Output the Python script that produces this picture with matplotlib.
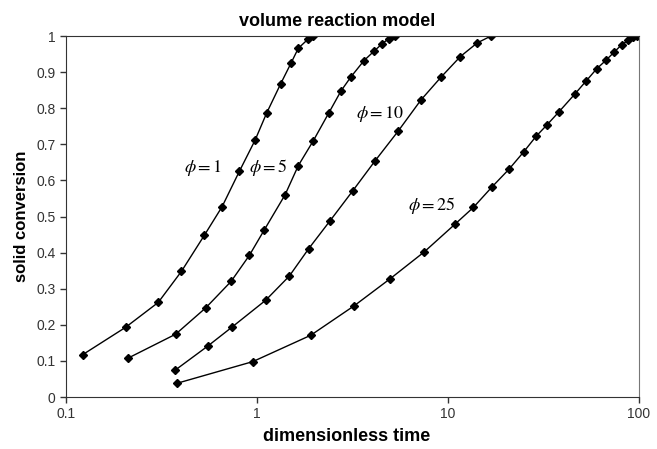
import matplotlib
matplotlib.use('Agg')
import numpy as np
from matplotlib import pyplot as plt

plt.rcParams['font.family'] = ['Liberation Sans', 'DejaVu Sans']
plt.rcParams['mathtext.fontset'] = 'stix'

# phi = 1
t1 = [0.122, 0.205, 0.304, 0.402, 0.530, 0.656, 0.808, 0.976, 1.124, 1.331, 1.507, 1.645, 1.856, 1.972]
x1 = [0.117, 0.193, 0.262, 0.348, 0.448, 0.527, 0.625, 0.711, 0.787, 0.868, 0.925, 0.966, 0.992, 1.0]

# phi = 5
t5 = [0.210, 0.375, 0.539, 0.731, 0.911, 1.092, 1.402, 1.645, 1.972, 2.382, 2.754, 3.094, 3.633, 4.099, 4.529, 4.909, 5.28]
x5 = [0.107, 0.174, 0.247, 0.320, 0.392, 0.463, 0.560, 0.641, 0.710, 0.788, 0.848, 0.886, 0.932, 0.958, 0.979, 0.993, 1.0]

# phi = 10
t10 = [0.372, 0.552, 0.737, 1.11, 1.476, 1.865, 2.411, 3.17, 4.148, 5.473, 7.22, 9.19, 11.6, 14.23, 16.8]
x10 = [0.074, 0.141, 0.193, 0.268, 0.335, 0.411, 0.488, 0.571, 0.654, 0.736, 0.823, 0.886, 0.943, 0.981, 1.0]

# phi = 25
t25 = [0.381, 0.950, 1.911, 3.232, 4.99, 7.51, 10.84, 13.57, 16.93, 20.86, 24.9, 28.9, 33.0, 38.1,
       46.1, 53.0, 60.0, 67.2, 74.0, 81.2, 87.9, 93.4, 97.3]
x25 = [0.038, 0.098, 0.171, 0.253, 0.328, 0.402, 0.478, 0.525, 0.581, 0.631, 0.679, 0.722, 0.754, 0.790,
       0.839, 0.876, 0.909, 0.933, 0.955, 0.976, 0.988, 0.996, 1.0]

labels = [r'$\phi = 1$', r'$\phi = 5$', r'$\phi = 10$', r'$\phi = 25$']
label_pos = [(0.522, 0.635), (1.14, 0.635), (4.4, 0.785), (8.2, 0.53)]

fig = plt.figure(figsize=(6.57, 4.49), dpi=100)
ax = fig.add_axes([0.1005, 0.1158, 0.8721, 0.804])

for t, x in [(t1, x1), (t5, x5), (t10, x10), (t25, x25)]:
    ax.plot(t, x, '-', color='black', lw=1.0, marker='D', ms=4.5, mfc='black', mec='black')

for lab, (xt, yt) in zip(labels, label_pos):
    ax.text(xt, yt, lab, fontsize=13, ha='center', va='center')

ax.set_xscale('log')
ax.set_xlim(0.1, 100)
ax.set_ylim(0, 1)
ax.set_xticks([0.1, 1, 10, 100])
ax.set_xticklabels(['0.1', '1', '10', '100'])
ax.minorticks_off()
ax.set_yticks(np.arange(0, 1.01, 0.1))
ax.set_yticklabels(['0', '0.1', '0.2', '0.3', '0.4', '0.5', '0.6', '0.7', '0.8', '0.9', '1'])
ax.tick_params(direction='out', length=4, width=1, labelsize=10, colors='#333333')
ax.tick_params(axis='x', pad=3)

for s in ['left', 'bottom', 'top']:
    ax.spines[s].set_color('#333333')
ax.spines['right'].set_color('#777777')

ax.set_title('volume reaction model', fontsize=13, fontweight='bold', pad=7, x=0.473)
ax.set_xlabel('dimensionless time', fontsize=13, fontweight='bold', labelpad=5, x=0.49)
ax.set_ylabel('solid conversion', fontsize=12, fontweight='bold', labelpad=5)

fig.savefig('out.png', dpi=100)
